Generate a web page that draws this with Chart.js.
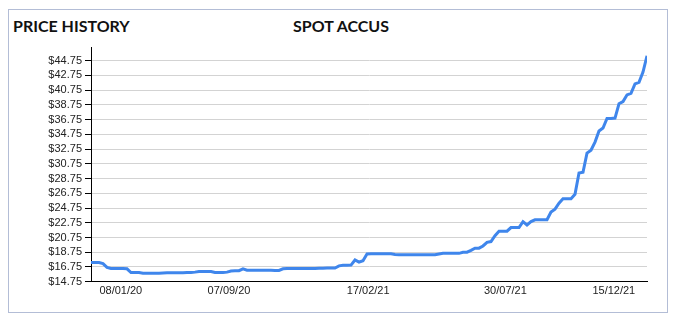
<!DOCTYPE html>
<html>
<head>
<meta charset="utf-8">
<script src="https://cdn.jsdelivr.net/npm/chart.js"></script>
<style>
  body { margin: 0; background: #fff; }
  #wrap { position: relative; width: 676px; height: 320px; }
  .card { position: absolute; left: 8px; top: 9px; width: 658px; height: 302px; border: 1px solid #b3bdd6; }
  .title { position: absolute; top: 16px; font: bold 16px Lato, sans-serif; color: #111; white-space: nowrap; }
  #left { left: 13px; }
  #center { left: 341px; transform: translateX(-50%); }
  canvas { position: absolute; left: 0; top: 0; }
</style>
</head>
<body>
<div id="wrap">
  <div class="card"></div>
  <div class="title" id="left">PRICE HISTORY</div>
  <div class="title" id="center">SPOT ACCUS</div>
  <canvas id="priceChart" width="676" height="320"></canvas>
</div>
<script>
// price points, evenly spaced along the x axis
const prices = [
  17.35, 17.35, 17.35, 17.2, 16.7, 16.55, 16.55, 16.55, 16.55, 16.5,
  16.0, 16.0, 16.0, 15.9, 15.9, 15.9, 15.9, 15.9, 15.92, 15.95,
  15.95, 15.97, 15.97, 15.98, 16.0, 16.0, 16.05, 16.13, 16.13, 16.13,
  16.13, 16.0, 16.0, 16.0, 16.05, 16.2, 16.22, 16.25, 16.5, 16.3,
  16.3, 16.3, 16.3, 16.3, 16.3, 16.3, 16.28, 16.28, 16.5, 16.53,
  16.53, 16.53, 16.53, 16.55, 16.55, 16.55, 16.55, 16.57, 16.57, 16.6,
  16.6, 16.6, 16.9, 16.97, 16.97, 17.0, 17.7, 17.4, 17.6, 18.5,
  18.53, 18.53, 18.53, 18.53, 18.53, 18.53, 18.45, 18.4, 18.4, 18.4,
  18.4, 18.4, 18.4, 18.4, 18.4, 18.4, 18.4, 18.5, 18.6, 18.6,
  18.6, 18.6, 18.6, 18.75, 18.75, 19.0, 19.3, 19.3, 19.6, 20.1,
  20.2, 21.0, 21.6, 21.6, 21.6, 22.1, 22.1, 22.1, 22.9, 22.45,
  22.9, 23.15, 23.15, 23.15, 23.15, 24.2, 24.6, 25.4, 26.0, 26.0,
  26.0, 26.6, 29.5, 29.6, 32.2, 32.6, 33.7, 35.2, 35.6, 36.9,
  36.9, 36.95, 38.9, 39.2, 40.1, 40.3, 41.6, 41.8, 43.2, 45.4
];

const xTickPos = [7.45, 34.5, 69.3, 103.6, 130.7];
const xTickLabels = ["08/01/20", "07/09/20", "17/02/21", "30/07/21", "15/12/21"];
const yTicks = [14.75, 16.75, 18.75, 20.75, 22.75, 24.75, 26.75, 28.75, 30.75, 32.75, 34.75, 36.75, 38.75, 40.75, 42.75, 44.75];

const tickFont = { family: "'Liberation Sans', Arial, sans-serif", size: 11 };

const data = {
  datasets: [
    {
      label: "Spot ACCUs",
      data: prices.map((p, i) => ({ x: i, y: p })),
      borderColor: "#3f86ec",
      borderWidth: 3,
      pointRadius: 0,
      tension: 0,
      fill: false
    }
  ]
};

const config = {
  type: "line",
  data: data,
  options: {
    responsive: false,
    animation: false,
    devicePixelRatio: 1,
    layout: { padding: { top: 47, right: 29, left: 0, bottom: 0 } },
    plugins: { legend: { display: false }, tooltip: { enabled: false } },
    scales: {
      x: {
        type: "linear",
        min: 0,
        max: prices.length - 1,
        afterBuildTicks: (axis) => { axis.ticks = xTickPos.map(v => ({ value: v })); },
        afterFit: (axis) => { axis.height = 38.3; },
        ticks: {
          autoSkip: false,
          maxRotation: 0,
          padding: 3,
          color: "#222",
          font: tickFont,
          callback: (v) => xTickLabels[xTickPos.indexOf(v)]
        },
        grid: { display: true, drawOnChartArea: false, drawTicks: false },
        border: { color: "#000", width: 1 }
      },
      y: {
        min: 14.75,
        max: 46.6,
        afterBuildTicks: (axis) => { axis.ticks = yTicks.map(v => ({ value: v })); },
        afterFit: (axis) => { axis.width = 91; },
        ticks: {
          autoSkip: false,
          padding: 3,
          color: "#222",
          font: tickFont,
          callback: (v) => "$" + v.toFixed(2)
        },
        grid: { color: "#d3d3d3", tickColor: "#000", tickLength: 6 },
        border: { color: "#000", width: 1 }
      }
    }
  }
};

const myChart = new Chart(document.getElementById("priceChart"), config);
</script>
</body>
</html>
